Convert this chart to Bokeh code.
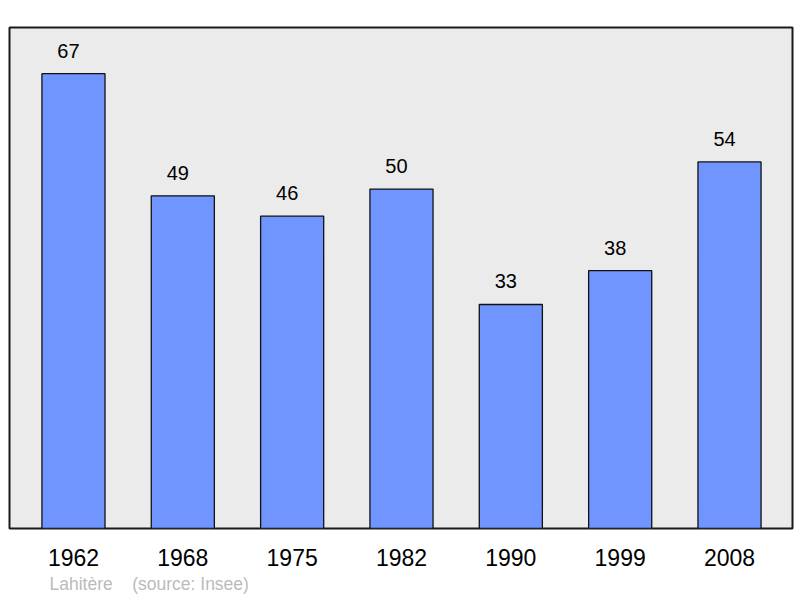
from bokeh.plotting import figure
from bokeh.models import ColumnDataSource, FixedTicker, Range1d, Title
from bokeh.core.properties import value
from bokeh.embed import file_html
from bokeh.resources import INLINE

years = ["1962", "1968", "1975", "1982", "1990", "1999", "2008"]
population = [67, 49, 46, 50, 33, 38, 54]
source_note = "Lahitère\u00a0\u00a0\u00a0\u00a0(source: Insee)"

idx = list(range(len(years)))
src = ColumnDataSource(dict(x=idx, top=population, lbl=[str(v) for v in population]))

p = figure(width=795, height=596, output_backend="svg", toolbar_location=None,
           x_range=Range1d(-0.585, 6.576), y_range=Range1d(0, 73.8),
           min_border_left=9, min_border_right=3, min_border_top=27, min_border_bottom=30)
p.background_fill_color = "#ebebeb"
p.border_fill_color = "white"
p.outline_line_color = "#1a1a1a"
p.outline_line_width = 2
p.grid.visible = False
p.yaxis.visible = False

p.vbar(x="x", top="top", bottom=0, width=0.577, source=src,
       fill_color="#7095ff", line_color="#111111", line_width=1.3)
p.text(x="x", y="top", text="lbl", source=src, y_offset=-16, x_offset=-5,
       text_align="center", text_baseline="bottom",
       text_font=value("Liberation Sans"), text_font_size="20px", text_color="black")

ax = p.xaxis[0]
ax.ticker = FixedTicker(ticks=idx)
ax.major_label_overrides = {i: y for i, y in zip(idx, years)}
ax.axis_line_color = None
ax.major_tick_line_color = None
ax.minor_tick_line_color = None
ax.major_label_standoff = 14
ax.major_label_text_font = "Liberation Sans"
ax.major_label_text_font_size = "23px"
ax.major_label_text_color = "black"

t = Title(text=source_note, align="left", offset=40, standoff=6,
          text_font="Liberation Sans", text_font_size="17.5px", text_font_style="normal",
          text_color="#bbbbbb")
p.add_layout(t, "below")

open("out.html", "w").write(file_html(p, INLINE))
